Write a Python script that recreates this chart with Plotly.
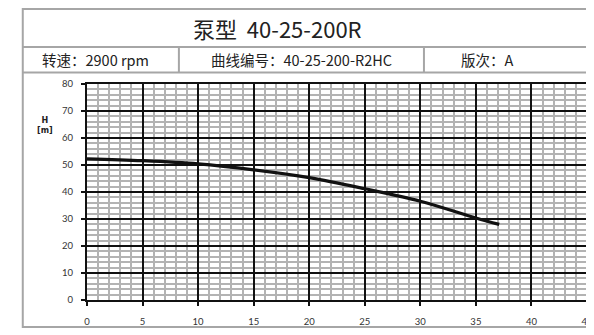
import plotly.graph_objects as go

# Data
flow_q = [0, 5, 10, 15, 20, 25, 30, 35, 37.1]
head_h = [52.3, 51.6, 50.4, 48.2, 45.3, 41.2, 36.6, 30.4, 28.0]
x_ticks = [0, 5, 10, 15, 20, 25, 30, 35, 40, 45]
y_ticks = [0, 10, 20, 30, 40, 50, 60, 70, 80]
title_text = "泵型  40-25-200R"
speed_text = "转速：2900 rpm"
curve_text = "曲线编号：40-25-200-R2HC"
version_text = "版次：A"
y_label = "<b>H</b><br><b>[m]</b>"

OFF = 8  # page body margin
W, H = 594 - OFF, 335 - OFF
L, R, T, B = 87 - OFF, 1, 84 - OFF, 35
PW = W - L - R
PH = H - T - B


def px(x):
    """reference page pixel -> paper x"""
    return (x - OFF - L) / PW


def py(y):
    """reference page pixel -> paper y"""
    return (H - B - (y - OFF)) / PH


fig = go.Figure()
fig.add_trace(go.Scatter(x=flow_q, y=head_h, mode="lines",
                         line=dict(color="#111111", width=3.2, shape="spline"),
                         hoverinfo="skip", showlegend=False))

frame_col = "#a6a6a6"
shapes = []
shapes.append(dict(type="rect", xref="paper", yref="paper",
                   x0=px(22), x1=px(640), y0=py(9), y1=py(327),
                   line=dict(color=frame_col, width=2), layer="below"))
for yy in (47, 72.5):
    shapes.append(dict(type="line", xref="paper", yref="paper",
                       x0=px(22), x1=px(640), y0=py(yy), y1=py(yy),
                       line=dict(color=frame_col, width=2)))
for xx in (180, 428):
    shapes.append(dict(type="line", xref="paper", yref="paper",
                       x0=px(xx), x1=px(xx), y0=py(47), y1=py(72.5),
                       line=dict(color=frame_col, width=2)))

cjk = "Noto Sans CJK SC"
annotations = [
    dict(text=title_text, x=px(280), y=py(28), xref="paper", yref="paper",
         showarrow=False, font=dict(family=cjk, size=22, color="#222222"),
         xanchor="center", yanchor="middle"),
    dict(text=speed_text, x=px(96), y=py(60), xref="paper", yref="paper",
         showarrow=False, font=dict(family=cjk, size=14.5, color="#222222"),
         xanchor="center", yanchor="middle"),
    dict(text=curve_text, x=px(304), y=py(60), xref="paper", yref="paper",
         showarrow=False, font=dict(family=cjk, size=14.5, color="#222222"),
         xanchor="center", yanchor="middle"),
    dict(text=version_text, x=px(463), y=py(60), xref="paper", yref="paper",
         showarrow=False, font=dict(family=cjk, size=14.5, color="#222222"),
         xanchor="left", yanchor="middle"),
    dict(text=y_label, x=px(44), y=py(125), xref="paper", yref="paper",
         showarrow=False, font=dict(family="DejaVu Sans", size=8, color="#222222"),
         xanchor="center", yanchor="middle", align="center"),
]

tickfont = dict(family="Lato", size=9.5, color="#333333")
fig.update_layout(
    width=W, height=H,
    margin=dict(l=L, r=R, t=T, b=B),
    paper_bgcolor="white", plot_bgcolor="white",
    shapes=shapes, annotations=annotations,
    xaxis=dict(range=[0, 45], tickvals=x_ticks, ticks="outside", ticklen=4,
               tickwidth=2, tickcolor="#111111", showline=True, linecolor="#111111",
               linewidth=2, mirror=True, showgrid=True, gridcolor="#111111",
               gridwidth=2, zeroline=False, tickfont=tickfont,
               ticklabelstandoff=8, ticklabeloverflow="allow",
               minor=dict(dtick=1, showgrid=True, gridcolor="#b3b3b3", gridwidth=1.5)),
    yaxis=dict(range=[0, 80], tickvals=y_ticks, ticks="outside", ticklen=4,
               tickwidth=2, tickcolor="#111111", showline=True, linecolor="#111111",
               linewidth=2, mirror=True, showgrid=True, gridcolor="#111111",
               gridwidth=2, zeroline=False, tickfont=tickfont,
               ticklabelstandoff=6, ticklabeloverflow="allow",
               minor=dict(dtick=2, showgrid=True, gridcolor="#b3b3b3", gridwidth=1.5)),
)

fig.write_html("out.html")
